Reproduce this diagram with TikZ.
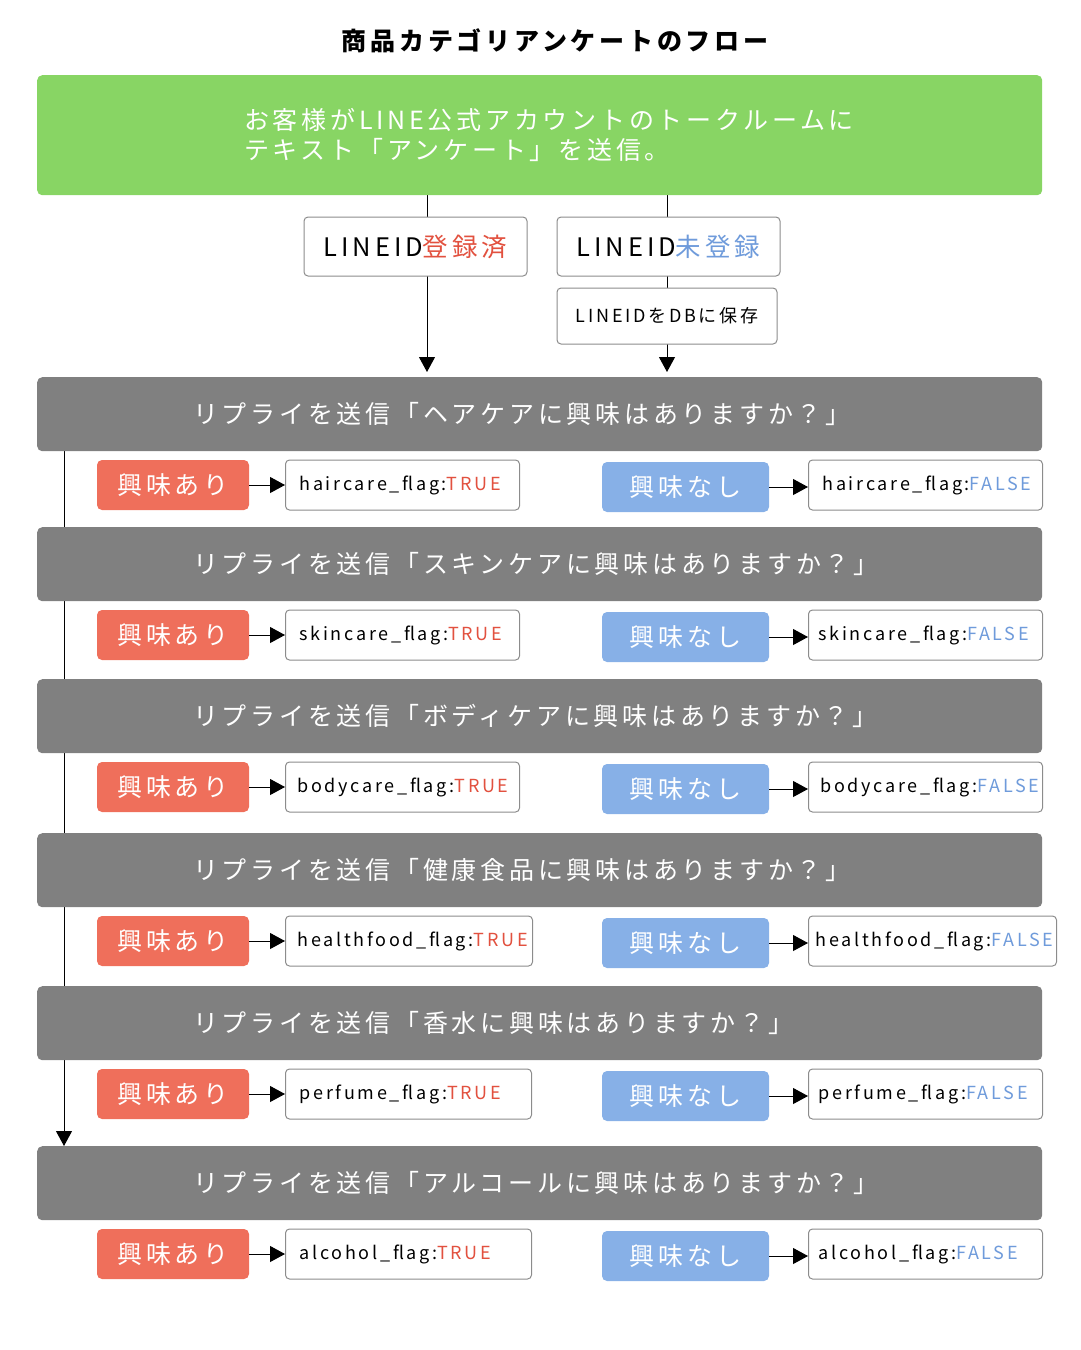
\documentclass[tikz,border=0pt]{standalone}
\usepackage{fontspec}
\setmainfont{Noto Sans CJK JP}[LetterSpace=15]
\usetikzlibrary{arrows.meta,backgrounds,positioning}

\definecolor{lineGreen}{HTML}{88D564}
\definecolor{barGray}{HTML}{808080}
\definecolor{yesRed}{HTML}{EF6F5B}
\definecolor{noBlue}{HTML}{87B0E7}
\definecolor{txtRed}{HTML}{E2513F}
\definecolor{txtBlue}{HTML}{6F9BDB}
\definecolor{boxLine}{HTML}{8C8C8C}

\newcommand{\bigtxt}{\fontsize{25}{30}\selectfont}
\newcommand{\smalltxt}{\fontsize{18}{22}\selectfont}

\tikzset{
  barbox/.style={fill=barGray, text=white, rounded corners=5pt, anchor=north west,
    text width=693pt, inner xsep=156pt, minimum height=74pt, align=left, font=\bigtxt},
  idbox/.style={draw=boxLine, line width=1pt, fill=white, rounded corners=4pt, minimum width=223pt,
    minimum height=59pt, font=\fontsize{25.5}{30}\selectfont},
  yesbox/.style={fill=yesRed, text=white, rounded corners=5pt, minimum width=152pt,
    minimum height=50pt, font=\bigtxt},
  nobox/.style={fill=noBlue, text=white, rounded corners=5pt, minimum width=167pt,
    minimum height=50pt, font=\bigtxt},
  flagbox/.style={draw=boxLine, line width=1pt, fill=white, rounded corners=4pt, anchor=west,
    minimum height=50pt, align=left, font=\smalltxt},
  link/.style={-{Triangle[length=15pt,width=16pt]}, line width=1pt}
}

\begin{document}
\begin{tikzpicture}[x=1pt, y=-1pt]
    \useasboundingbox (0,0) rectangle (1080,1350);

    % Title and start
    \node[font=\fontsize{25}{30}\selectfont\bfseries] (title) at (555,41) {商品カテゴリアンケートのフロー};
    \node[fill=lineGreen, text=white, rounded corners=5pt, anchor=north west, text width=591pt,
      inner xsep=207pt, minimum height=120pt, align=left, font=\bigtxt] (ask) at (37,75)
      {お客様がLINE公式アカウントのトークルームに\\テキスト「アンケート」を送信。};

    % LINE ID check
    \node[idbox] (registered) at (415.5,246.5) {LINEID\textcolor{txtRed}{登録済}};
    \node[idbox] (unregistered) at (668.5,246.5) {LINEID\textcolor{txtBlue}{未登録}};
    \node[draw=boxLine, line width=1pt, fill=white, rounded corners=4pt, minimum width=220pt,
      minimum height=56pt, font=\smalltxt] (savedb) at (667,316) {LINEIDをDBに保存};

    % Questions and answers
    \foreach \i/\y/\topic/\flag/\wt/\pt/\wf/\pf in {
        1/377/ヘアケア/haircare/206/14/206/14,
        2/527/スキンケア/skincare/206/14/214/10,
        3/679/ボディケア/bodycare/210/12/210/12,
        4/833/健康食品/healthfood/223/12/234/7,
        5/986/香水/perfume/218/14/214/10,
        6/1146/アルコール/alcohol/218/14/214/10}{
      \node[barbox] (bar\i) at (37,\y) {リプライを送信「\topic に興味はありますか？」};
      \node[yesbox] (yes\i) at (173,\y+108) {興味あり};
      \node[flagbox, text width=\wt pt, inner xsep=\pt pt] (true\i) at (285,\y+108)
        {\flag\_flag:\textcolor{txtRed}{TRUE}};
      \node[nobox] (no\i) at (685.5,\y+110) {興味なし};
      \node[flagbox, text width=\wf pt, inner xsep=\pf pt] (false\i) at (808,\y+108)
        {\flag\_flag:\textcolor{txtBlue}{FALSE}};
      \draw[link] (yes\i) -- (true\i);
      \draw[link] (no\i.east) -- (false\i.west |- no\i.east);
    }

    % Connectors behind the boxes
    \coordinate (regx) at (427,0);
    \coordinate (unregx) at (667,0);
    \coordinate (leftx) at (64,0);
    \begin{scope}[on background layer]
      \draw[link, shorten >=5pt] (ask.south -| regx) -- (bar1.north -| regx);
      \draw[link, shorten >=5pt] (ask.south -| unregx) -- (bar1.north -| unregx);
      \draw[link] (bar1.south -| leftx) -- (bar6.north -| leftx);
    \end{scope}
\end{tikzpicture}
\end{document}
